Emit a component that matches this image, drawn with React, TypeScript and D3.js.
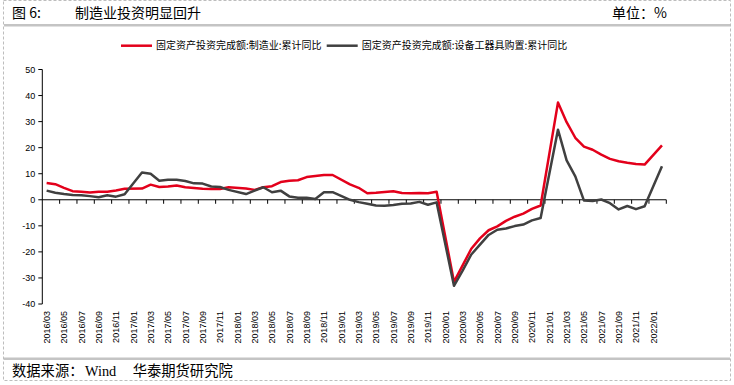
import React, { useEffect, useRef } from 'react'
import * as d3 from 'd3'

// months from 2016/03 to 2022/02, Jan values are not published (null)
const months: string[] = []
for (let y = 2016; y <= 2022; y++) {
  for (let m = 1; m <= 12; m++) {
    if (y === 2016 && m < 3) continue
    if (y === 2022 && m > 2) continue
    months.push(y + '/' + (m < 10 ? '0' + m : '' + m))
  }
}

const manufacturing: (number | null)[] = [
  6.4, 6.0, 4.6, 3.3, 3.1, 2.8, 3.1, 3.1, 3.6, 4.2,
  null, 4.3, 5.8, 4.9, 5.1, 5.5, 4.8, 4.5, 4.2, 4.1, 4.1, 4.8,
  null, 4.3, 3.8, 4.8, 5.2, 6.8, 7.3, 7.5, 8.7, 9.1, 9.5, 9.5,
  null, 5.9, 4.6, 2.5, 2.7, 3.0, 3.3, 2.6, 2.5, 2.6, 2.5, 3.1,
  null, -31.5, -25.2, -18.8, -14.8, -11.7, -10.2, -8.1, -6.5, -5.3, -3.5, -2.2,
  null, 37.3, 29.8, 23.8, 20.4, 19.2, 17.3, 15.7, 14.8, 14.2, 13.7, 13.5,
  null, 20.9,
]

const equipment: (number | null)[] = [
  3.5, 2.7, 2.2, 1.8, 1.7, 1.4, 1.0, 1.7, 1.2, 2.1,
  null, 10.5, 10.0, 7.3, 7.7, 7.7, 7.2, 6.3, 6.2, 5.1, 4.9, 3.8,
  null, 2.2, 3.5, 4.8, 2.9, 3.5, 1.3, 0.8, 0.8, 0.3, 2.9, 2.9,
  null, 0.0, -0.9, -1.5, -2.2, -2.3, -2.0, -1.5, -1.4, -0.8, -1.9, -1.0,
  null, -33.0, -27.2, -21.0, -17.2, -13.5, -11.5, -11.0, -10.1, -9.5, -7.9, -7.0,
  null, 26.9, 15.1, 9.0, -0.3, -0.5, 0.1, -1.3, -3.7, -2.4, -3.6, -2.5,
  null, 12.9,
]

const seriesNames = [
  '固定资产投资完成额:制造业:累计同比',
  '固定资产投资完成额:设备工器具购置:累计同比',
]
const seriesColors = ['#e3001b', '#404040']
const yTicks = [50, 40, 30, 20, 10, 0, -10, -20, -30, -40]

const W = 734, H = 385
const CJK = '"Noto Sans CJK SC", sans-serif'
const AXF = '"Liberation Sans", Arial, sans-serif'

function Chart() {
  const ref = useRef<SVGSVGElement>(null)

  useEffect(() => {
    const svg = d3.select(ref.current)
    svg.selectAll('*').remove()

    const left = 42.3, right = 666.3, top = 69.5, bottom = 304
    const x = d3.scaleBand<string>().domain(months).range([left, right])
    const y = d3.scaleLinear().domain([-40, 50]).range([bottom, top])
    const cx = (m: string) => (x(m) as number) + x.bandwidth() / 2

    // frame
    svg.append('rect')
      .attr('x', 3.5).attr('y', 0.5).attr('width', 727).attr('height', 380)
      .attr('fill', 'none').attr('stroke', '#bdbdbd').attr('stroke-dasharray', '3,2')
    svg.append('rect').attr('x', 4).attr('y', 24).attr('width', 726).attr('height', 2.5).attr('fill', '#c4c4c4')
    svg.append('rect').attr('x', 4).attr('y', 357.5).attr('width', 726).attr('height', 2.5).attr('fill', '#c4c4c4')

    // title row
    svg.append('text').text('图 6:').attr('x', 12).attr('y', 18)
      .style('font-family', CJK).style('font-size', '14px').attr('fill', '#000')
    svg.append('text').text('制造业投资明显回升').attr('x', 75).attr('y', 18)
      .style('font-family', CJK).style('font-size', '14px').attr('fill', '#000')
    svg.append('text').text('单位：%').attr('x', 612).attr('y', 18)
      .style('font-family', CJK).style('font-size', '14px').attr('fill', '#000')

    // source
    const src = svg.append('text').attr('y', 376)
      .style('font-size', '14.3px').attr('fill', '#000')
    src.append('tspan').text('数据来源：').attr('x', 12).style('font-family', CJK)
    src.append('tspan').text('Wind').attr('x', 85).style('font-family', '"Liberation Serif", serif')
    src.append('tspan').text('华泰期货研究院').attr('x', 132.7).style('font-family', CJK)

    // legend
    const legendX = [121, 326.7]
    seriesNames.forEach((name, i) => {
      svg.append('line')
        .attr('x1', legendX[i]).attr('x2', legendX[i] + 31)
        .attr('y1', 45.7).attr('y2', 45.7)
        .attr('stroke', seriesColors[i]).attr('stroke-width', 2.5)
      svg.append('text').text(name)
        .attr('x', legendX[i] + 35).attr('y', 49.3)
        .style('font-family', CJK).style('font-size', '10px').attr('fill', '#000')
    })

    // y axis
    svg.append('line').attr('x1', left).attr('x2', left).attr('y1', top).attr('y2', bottom)
      .attr('stroke', '#000').attr('stroke-width', 1)
    yTicks.forEach(t => {
      svg.append('line').attr('x1', left - 4).attr('x2', left).attr('y1', y(t)).attr('y2', y(t))
        .attr('stroke', '#000')
      svg.append('text').text(String(t))
        .attr('x', left - 7).attr('y', y(t) + 3.2)
        .attr('text-anchor', 'end')
        .style('font-family', AXF).style('font-size', '9px').attr('fill', '#000')
    })

    // x axis along zero
    const y0 = y(0)
    svg.append('line').attr('x1', left).attr('x2', right).attr('y1', y0).attr('y2', y0)
      .attr('stroke', '#000').attr('stroke-width', 1)
    months.forEach((m, i) => {
      if (i % 2 !== 0) return
      const tx = x(m) as number
      if (i > 0) {
        svg.append('line').attr('x1', tx).attr('x2', tx).attr('y1', y0).attr('y2', y0 + 4)
          .attr('stroke', '#000')
      }
      svg.append('text').text(m)
        .attr('transform', `translate(${cx(m) + 3.2},311) rotate(-90)`)
        .attr('text-anchor', 'end')
        .style('font-family', AXF).style('font-size', '9px').attr('fill', '#000')
    })
    svg.append('line').attr('x1', right).attr('x2', right).attr('y1', y0).attr('y2', y0 + 4)
      .attr('stroke', '#000')

    // lines (Jan gaps are bridged)
    const line = d3.line<{ m: string; v: number }>()
      .x(d => cx(d.m))
      .y(d => y(d.v))
    ;[manufacturing, equipment].forEach((vals, i) => {
      const pts = months
        .map((m, k) => ({ m, v: vals[k] as number }))
        .filter(d => d.v !== null)
      svg.append('path')
        .attr('d', line(pts) as string)
        .attr('fill', 'none')
        .attr('stroke', seriesColors[i])
        .attr('stroke-width', 2.5)
        .attr('stroke-linejoin', 'round')
    })
  }, [])

  return <svg ref={ref} width={W} height={H} style={{ position: 'absolute', left: 0, top: 0, background: '#fff' }} />
}

export default function App() {
  return <Chart />
}
